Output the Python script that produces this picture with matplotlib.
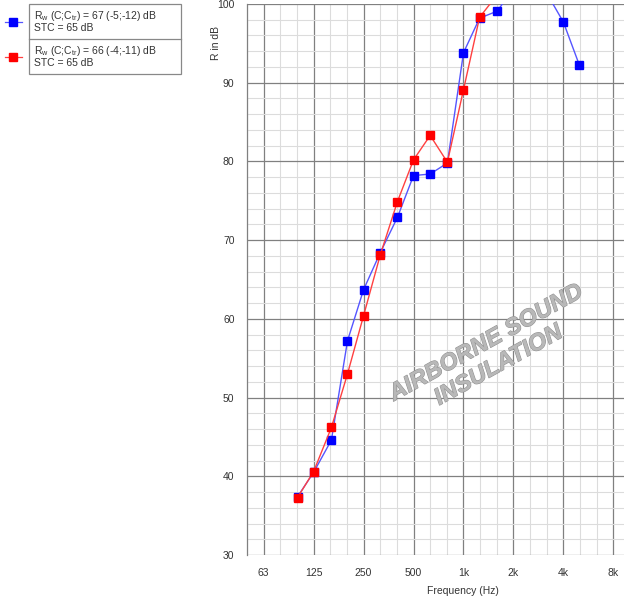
import numpy as np
import matplotlib.pyplot as plt
import matplotlib.patheffects as pe
from matplotlib.patches import Rectangle
from matplotlib.lines import Line2D
from matplotlib.ticker import FixedLocator, NullFormatter

plt.rcParams['font.family'] = ['Liberation Sans', 'DejaVu Sans']
plt.rcParams['mathtext.default'] = 'regular'

# third-octave band centre frequencies (Hz)
freq = [100, 125, 160, 200, 250, 315, 400, 500, 630, 800,
        1000, 1250, 1600, 2000, 2500, 3150, 4000, 5000]
# sound reduction index, sample 1 (blue)
r_blue = [37.4, 40.5, 44.6, 57.2, 63.7, 68.4, 72.9, 78.2, 78.4, 79.8,
          93.8, 98.2, 99.1, 102.0, 103.0, 101.5, 97.7, 92.2]
# sound reduction index, sample 2 (red), runs off the top after 1250 Hz
freq_red = freq[:13]
r_red = [37.3, 40.6, 46.2, 53.0, 60.4, 68.1, 74.9, 80.2, 83.3, 79.9,
         89.1, 98.3, 101.2]

oct_ticks = [62.5, 125, 250, 500, 1000, 2000, 4000, 8000]
oct_labels = ['63', '125', '250', '500', '1k', '2k', '4k', '8k']
legend_rows = [(r'R$_w$ (C;C$_{tr}$) = 67 (-5;-12) dB', 'STC = 65 dB'),
               (r'R$_w$ (C;C$_{tr}$) = 66 (-4;-11) dB', 'STC = 65 dB')]

W, H = 624, 601
fig = plt.figure(figsize=(W / 100, H / 100), dpi=100)
ax = fig.add_axes([247 / W, 46 / H, 383 / W, 551 / H])

ax.set_xscale('log')
ax.set_xlim(62.5 * 2 ** (-1 / 3), 8000 * 2 ** (1 / 3))
ax.set_ylim(30, 100)

ax.xaxis.set_major_locator(FixedLocator(oct_ticks))
ax.set_xticklabels(oct_labels)
thirds = [62.5 * 2 ** (k / 3) for k in range(-1, 23)]
ax.xaxis.set_minor_locator(FixedLocator(thirds))
ax.xaxis.set_minor_formatter(NullFormatter())
ax.set_yticks(np.arange(30, 101, 10))
ax.set_yticks(np.arange(30, 101, 2), minor=True)

ax.grid(which='minor', color='#dcdcdc', lw=0.8)
ax.grid(which='major', color='#808080', lw=0.9)
ax.set_axisbelow(True)
ax.tick_params(which='both', length=0, labelsize=7.5, colors='#333333')
ax.tick_params(axis='y', pad=9)
ax.tick_params(axis='x', pad=9)
for s in ['top', 'right', 'bottom']:
    ax.spines[s].set_visible(False)
ax.spines['left'].set_color('#808080')
ax.spines['left'].set_linewidth(0.9)

ax.plot(freq, r_blue, color='#5555ff', lw=1.0, marker='s', ms=5.5,
        mfc='#0000ff', mec='#0000ff')
ax.plot(freq_red, r_red, color='#ff4040', lw=1.0, marker='s', ms=5.5,
        mfc='#ff0000', mec='#ff0000')

# watermark
ax.text(0.64, 0.365, 'AIRBORNE SOUND\nINSULATION', transform=ax.transAxes,
        rotation=29, ha='center', va='center', multialignment='center',
        fontsize=17, fontweight='bold', fontstyle='italic', color='#b8b8b8',
        linespacing=1.15,
        path_effects=[pe.withStroke(linewidth=0.8, foreground='#939393')])

fig.text(463 / W, 1 - 591 / H, 'Frequency (Hz)', ha='center', va='center',
         fontsize=7.5, color='#333333')
fig.text(216 / W, 1 - 43 / H, 'R in dB', ha='center', va='center',
         rotation=90, fontsize=7.5, color='#333333')

# legend box
fig.patches.append(Rectangle((29 / W, 1 - 74 / H), 152 / W, 70 / H,
                             transform=fig.transFigure, fill=False,
                             ec='#888888', lw=0.9))
fig.lines.append(Line2D([29 / W, 181 / W], [1 - 39 / H, 1 - 39 / H],
                        transform=fig.transFigure, color='#888888', lw=0.9))
for i, (col, mcol) in enumerate([('#5555ff', '#0000ff'), ('#ff4040', '#ff0000')]):
    yc = 22 + 35 * i
    fig.lines.append(Line2D([5 / W, 22 / W], [1 - yc / H, 1 - yc / H],
                            transform=fig.transFigure, color=col, lw=0.9))
    fig.lines.append(Line2D([13 / W], [1 - yc / H], transform=fig.transFigure,
                            marker='s', ms=5.5, mfc=mcol, mec=mcol, ls='none'))
    fig.text(34 / W, 1 - (yc - 6) / H, legend_rows[i][0], ha='left',
             va='center', fontsize=7.5, color='#333333')
    fig.text(34 / W, 1 - (yc + 6) / H, legend_rows[i][1], ha='left',
             va='center', fontsize=7.5, color='#333333')

fig.savefig('out.png', dpi=100)
